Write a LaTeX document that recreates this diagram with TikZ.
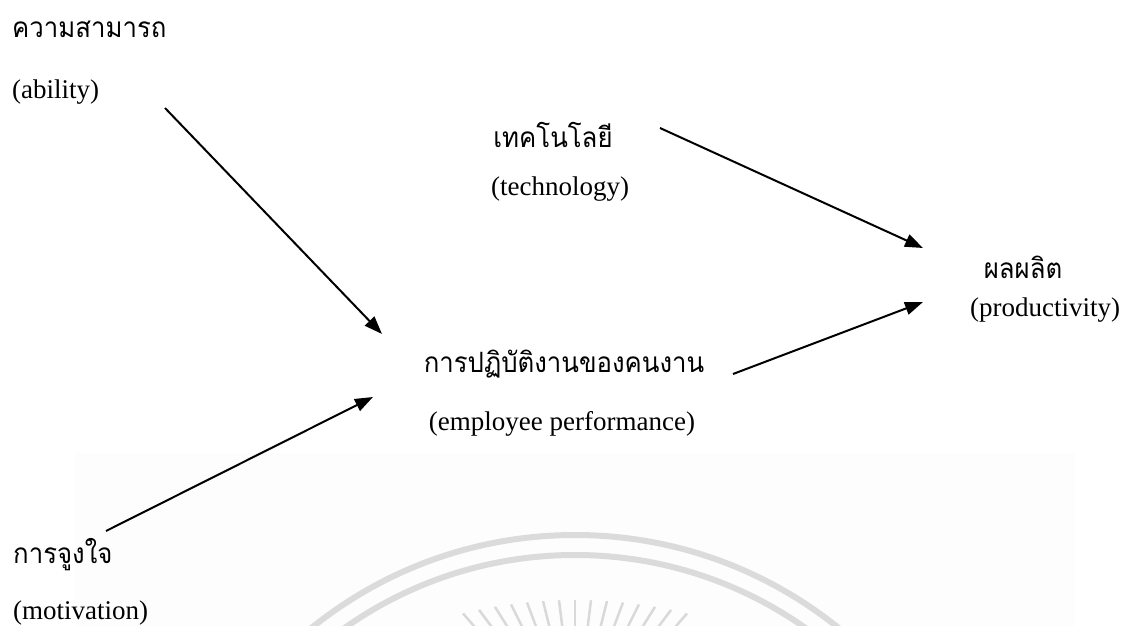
\documentclass[tikz,border=0pt]{standalone}
\usepackage{fontspec}
\setmainfont{Liberation Serif}
\newfontfamily\thaifont[Script=Thai,FakeStretch=0.92]{Loma}
\usetikzlibrary{arrows.meta}
\begin{document}
\begin{tikzpicture}[x=1pt,y=-1pt,
  en/.style={font=\fontsize{27}{30}\selectfont, inner sep=0pt},
  th/.style={font=\thaifont\fontsize{28}{30}\selectfont, inner sep=0pt},
  arr/.style={line width=2pt, -{Triangle[length=18pt,width=13pt]}},
  wm/.style={draw=gray!28, line width=6pt},
  ray/.style={draw=gray!30, line width=2.5pt}]
\useasboundingbox (0,0) rectangle (1124,626);
% faint watermark
\fill[gray!1.5] (75,453) rectangle (1075,626);
\begin{scope}
  \clip (0,0) rectangle (1124,626);
  \draw[wm] (575,955) circle[radius=420pt];
  \draw[wm] (575,955) circle[radius=400pt];
  \foreach \k in {-7,...,7}{
    \pgfmathsetmacro{\xx}{575+16*\k}
    \pgfmathsetmacro{\yy}{600+(16*\k)*(16*\k)/930}
    \pgfmathsetmacro{\ex}{\xx-5*\k}
    \draw[ray] (\xx,\yy) -- (\ex,\yy+40);
  }
\end{scope}
% texts
\node[th, anchor=base west] (abilityTh) at (12,38) {ความสามารถ};
\node[en, anchor=base west] (abilityEn) at (12,99) {(ability)};
\node[th, anchor=base] (techTh) at (553,147) {เทคโนโลยี};
\node[en, anchor=base] (techEn) at (560,195) {(technology)};
\node[th, anchor=base] (prodTh) at (1023,278) {ผลผลิต};
\node[en, anchor=base] (prodEn) at (1045,316) {(productivity)};
\node[th, anchor=base] (perfTh) at (564,372) {การปฏิบัติงานของคนงาน};
\node[en, anchor=base] (perfEn) at (562,430) {(employee performance)};
\node[th, anchor=base west] (motTh) at (13,563) {การจูงใจ};
\node[en, anchor=base west] (motEn) at (13,619) {(motivation)};
% connector end points
\coordinate (a1) at (165,108);
\coordinate (a2) at (382,334);
\coordinate (m1) at (106,531);
\coordinate (m2) at (373,397);
\coordinate (t1) at (660,128);
\coordinate (t2) at (923,248);
\coordinate (p1) at (733,374);
\coordinate (p2) at (923,302);
\draw[arr] (a1) -- (a2);
\draw[arr] (m1) -- (m2);
\draw[arr] (t1) -- (t2);
\draw[arr] (p1) -- (p2);
\end{tikzpicture}
\end{document}
